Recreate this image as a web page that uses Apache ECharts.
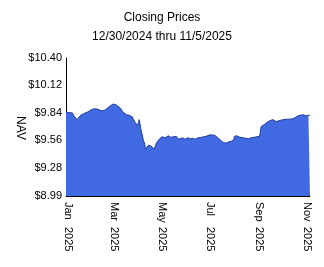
<!DOCTYPE html>
<html>
<head>
<meta charset="utf-8">
<style>
  html, body { margin: 0; padding: 0; background: #fff; }
  #chart { width: 324px; height: 267px; }
</style>
<script src="https://cdn.jsdelivr.net/npm/echarts@6/dist/echarts.min.js"></script>
</head>
<body>
<div id="chart"></div>
<script>
var dates = [
  '2024-12-30', '2024-12-31', '2025-01-03', '2025-01-07', '2025-01-09', '2025-01-10', '2025-01-13',
  '2025-01-15', '2025-01-17', '2025-01-21', '2025-01-23', '2025-01-27', '2025-01-29', '2025-01-31',
  '2025-02-03', '2025-02-05', '2025-02-07', '2025-02-10', '2025-02-12', '2025-02-14', '2025-02-18',
  '2025-02-20', '2025-02-24', '2025-02-26', '2025-02-28', '2025-03-04', '2025-03-06', '2025-03-10',
  '2025-03-12', '2025-03-13', '2025-03-17', '2025-03-20', '2025-03-24', '2025-03-26', '2025-03-28',
  '2025-03-31', '2025-04-01', '2025-04-02', '2025-04-03', '2025-04-04', '2025-04-07', '2025-04-09',
  '2025-04-10', '2025-04-11', '2025-04-14', '2025-04-16', '2025-04-17', '2025-04-21', '2025-04-23',
  '2025-04-24', '2025-04-28', '2025-05-01', '2025-05-05', '2025-05-07', '2025-05-09', '2025-05-12',
  '2025-05-13', '2025-05-16', '2025-05-19', '2025-05-22', '2025-05-27', '2025-05-30', '2025-06-03',
  '2025-06-06', '2025-06-09', '2025-06-12', '2025-06-16', '2025-06-20', '2025-06-23', '2025-06-26',
  '2025-07-01', '2025-07-03', '2025-07-07', '2025-07-10', '2025-07-14', '2025-07-17', '2025-07-21',
  '2025-07-24', '2025-07-28', '2025-07-31', '2025-08-01', '2025-08-04', '2025-08-06', '2025-08-08',
  '2025-08-12', '2025-08-15', '2025-08-19', '2025-08-22', '2025-08-26', '2025-08-29', '2025-09-02',
  '2025-09-04', '2025-09-08', '2025-09-11', '2025-09-15', '2025-09-17', '2025-09-19', '2025-09-23',
  '2025-09-25', '2025-09-29', '2025-10-02', '2025-10-07', '2025-10-10', '2025-10-14', '2025-10-17',
  '2025-10-21', '2025-10-24', '2025-10-27', '2025-10-29', '2025-10-31', '2025-11-03', '2025-11-05'
];

var nav = [
  9.85, 9.85, 9.84, 9.84, 9.81, 9.79, 9.77,
  9.79, 9.81, 9.83, 9.84, 9.85, 9.86, 9.87,
  9.88, 9.90, 9.88, 9.87, 9.85, 9.86, 9.87,
  9.88, 9.91, 9.92, 9.93, 9.92, 9.91, 9.88,
  9.85, 9.83, 9.82, 9.815, 9.80, 9.77, 9.74,
  9.71, 9.74, 9.77, 9.79, 9.68, 9.57, 9.52,
  9.47, 9.49, 9.51, 9.49, 9.50, 9.47, 9.51,
  9.535, 9.575, 9.595, 9.585, 9.60, 9.605, 9.59,
  9.575, 9.595, 9.60, 9.57, 9.585, 9.57, 9.585,
  9.575, 9.58, 9.57, 9.585, 9.59, 9.595, 9.60,
  9.615, 9.62, 9.61, 9.59, 9.565, 9.54, 9.53,
  9.54, 9.55, 9.56, 9.60, 9.605, 9.60, 9.59,
  9.585, 9.58, 9.575, 9.585, 9.59, 9.595, 9.60,
  9.70, 9.72, 9.74, 9.76, 9.775, 9.77, 9.75,
  9.745, 9.765, 9.77, 9.775, 9.775, 9.78, 9.79,
  9.81, 9.815, 9.82, 9.82, 9.81, 9.815, 9.815
];

var yTicks = [8.99, 9.28, 9.56, 9.84, 10.12, 10.40];
var xTicks = ['2025-01-01', '2025-03-01', '2025-05-01', '2025-07-01', '2025-09-01', '2025-11-01'];
var monthNames = ['Jan', 'Feb', 'Mar', 'Apr', 'May', 'Jun', 'Jul', 'Aug', 'Sep', 'Oct', 'Nov', 'Dec'];

(function() {
  var font = 'Arial, "Liberation Sans", sans-serif';
  var chart = echarts.init(document.getElementById('chart'), null, { renderer: 'canvas' });

  function ts(s) { return Date.UTC(+s.slice(0, 4), +s.slice(5, 7) - 1, +s.slice(8, 10)); }

  var seriesData = dates.map(function(d, i) { return [ts(d), nav[i]]; });

  chart.setOption({
    animation: false,
    title: [
      {
        text: 'Closing Prices',
        left: 'center',
        top: 7,
        textStyle: { fontFamily: font, fontSize: 12, fontWeight: 'normal', color: '#000' }
      },
      {
        text: '12/30/2024 thru 11/5/2025',
        left: 'center',
        top: 26,
        textStyle: { fontFamily: font, fontSize: 12, fontWeight: 'normal', color: '#000' }
      }
    ],
    // axis title drawn as rotated text, ECharts kept pushing the axis name off to the left
    graphic: [
      {
        type: 'text',
        x: 20,
        y: 128,
        rotation: -Math.PI / 2,
        style: {
          text: 'NAV',
          font: '12px ' + font,
          fill: '#000',
          align: 'center',
          verticalAlign: 'middle'
        }
      }
    ],
    grid: { left: 66, right: 14, top: 58, bottom: 71, containLabel: false },
    xAxis: {
      type: 'value',
      min: ts(dates[0]),
      max: ts(dates[dates.length - 1]),
      axisLine: { lineStyle: { color: '#000', width: 1 } },
      axisTick: { show: false },
      splitLine: { show: false },
      axisLabel: {
        customValues: xTicks.map(ts),
        rotate: -90,
        margin: 6,
        color: '#000',
        fontFamily: font,
        fontSize: 11,
        formatter: function(v) {
          var d = new Date(v);
          return '{m|' + monthNames[d.getUTCMonth()] + '}{y|' + d.getUTCFullYear() + '}';
        },
        rich: {
          m: { width: 25, fontFamily: font, fontSize: 11, color: '#000' },
          y: { fontFamily: font, fontSize: 11, color: '#000' }
        }
      }
    },
    yAxis: {
      type: 'value',
      min: 8.99,
      max: 10.40,
      axisLine: { show: true, lineStyle: { color: '#000', width: 1 } },
      axisTick: { show: false },
      splitLine: { show: false },
      axisLabel: {
        customValues: yTicks,
        margin: 4,
        color: '#000',
        fontFamily: font,
        fontSize: 11,
        formatter: function(v) { return '$' + v.toFixed(2); }
      }
    },
    series: [
      {
        type: 'line',
        data: seriesData,
        symbol: 'none',
        lineStyle: { color: '#1f3c9e', width: 1 },
        areaStyle: { color: '#4169e1', opacity: 1 }
      }
    ]
  });
})();
</script>
</body>
</html>
